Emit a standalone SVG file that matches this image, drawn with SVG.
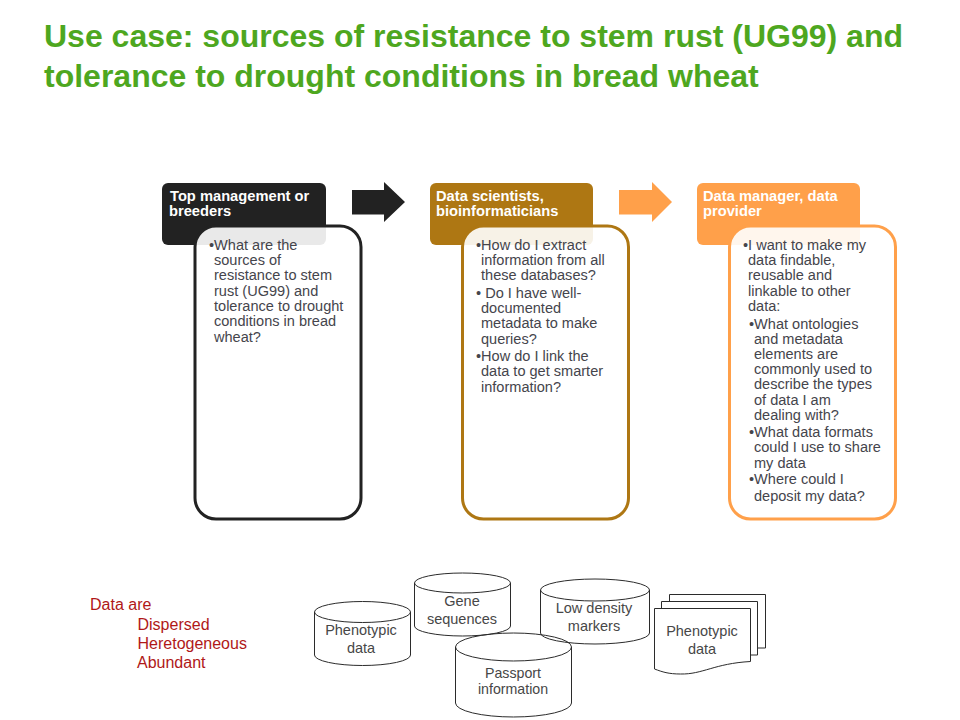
<svg xmlns="http://www.w3.org/2000/svg" width="960" height="720" viewBox="0 0 960 720">
<style>
text{font-family:"Liberation Sans",Arial,sans-serif}
.title{font-size:32px;font-weight:bold;fill:#4ea71f}
.hd{font-size:14.700px;font-weight:bold;fill:#fff}
.bd{font-size:14.550px;fill:#45454c}
.lb{font-size:14.500px;fill:#474747;text-anchor:middle}
.sm{font-size:14.200px}
.red{font-size:16px;fill:#b01818}
.body{fill:#fff;fill-opacity:.9;stroke-width:3}
.ln{fill:none;stroke:#2b2b2b;stroke-width:1}
.pg{fill:#fff;stroke:#2b2b2b;stroke-width:1}
</style>
<rect width="960" height="720" fill="#fff"/>
<text class="title" x="44" y="47">Use case: sources of resistance to stem rust (UG99) and</text>
<text class="title" x="44" y="87">tolerance to drought conditions in bread wheat</text>

<g id="node-top-management">
<rect x="162" y="183" width="164" height="62" rx="6" fill="#222"/>
<text class="hd" x="170" y="201">Top management or</text>
<text class="hd" x="169" y="216">breeders</text>
<rect class="body" x="195" y="226" width="166" height="293" rx="21" stroke="#222"/>
<text class="bd"><tspan x="209" y="250">•What are the</tspan><tspan x="214" y="265">sources of</tspan><tspan x="214" y="280">resistance to stem</tspan><tspan x="214" y="296">rust (UG99) and</tspan><tspan x="214" y="311">tolerance to drought</tspan><tspan x="214" y="326">conditions in bread</tspan><tspan x="214" y="342">wheat?</tspan></text>
</g>

<g id="node-data-scientists">
<rect x="430" y="183" width="163" height="62" rx="6" fill="#ae7713"/>
<text class="hd" x="436" y="201">Data scientists,</text>
<text class="hd" x="436" y="216">bioinformaticians</text>
<rect class="body" x="462.500" y="226" width="166" height="293" rx="21" stroke="#ae7713"/>
<text class="bd"><tspan x="476" y="250">•How do I extract</tspan><tspan x="481" y="265">information from all</tspan><tspan x="481" y="280">these databases?</tspan><tspan x="476" y="298">• Do I have well-</tspan><tspan x="481" y="313">documented</tspan><tspan x="481" y="328">metadata to make</tspan><tspan x="481" y="344">queries?</tspan><tspan x="476" y="361">•How do I link the</tspan><tspan x="481" y="376">data to get smarter</tspan><tspan x="481" y="392">information?</tspan></text>
</g>

<g id="node-data-manager">
<rect x="697" y="183" width="163" height="62" rx="6" fill="#ffa04a"/>
<text class="hd" x="703" y="201">Data manager, data</text>
<text class="hd" x="703" y="216">provider</text>
<rect class="body" x="729.500" y="226" width="166" height="293" rx="21" stroke="#ffa04a"/>
<text class="bd"><tspan x="743" y="250">•I want to make my</tspan><tspan x="748" y="265">data findable,</tspan><tspan x="748" y="280">reusable and</tspan><tspan x="748" y="296">linkable to other</tspan><tspan x="748" y="311">data:</tspan><tspan x="749" y="329">•What ontologies</tspan><tspan x="754" y="344">and metadata</tspan><tspan x="754" y="359">elements are</tspan><tspan x="754" y="374">commonly used to</tspan><tspan x="754" y="389">describe the types</tspan><tspan x="754" y="405">of data I am</tspan><tspan x="754" y="420">dealing with?</tspan><tspan x="749" y="437">•What data formats</tspan><tspan x="754" y="452">could I use to share</tspan><tspan x="754" y="468">my data</tspan><tspan x="749" y="484">•Where could I</tspan><tspan x="754" y="501">deposit my data?</tspan></text>
</g>

<g id="connectors">
<polygon points="352,190 384,190 384,182 405,202 384,222 384,214.500 352,214.500" fill="#222"/>
<polygon points="619,190 652,190 652,182 672,202 652,222 652,214.500 619,214.500" fill="#ffa04a"/>
</g>

<g id="data-note">
<text class="red" x="90" y="610">Data are</text>
<text class="red" x="137.500" y="630">Dispersed</text>
<text class="red" x="137.500" y="649">Heretogeneous</text>
<text class="red" x="137" y="668">Abundant</text>
</g>

<g id="node-phenotypic-db">
<path class="ln" d="M314.500,612a48,10.500 0 0 1 96,0a48,10.500 0 0 1 -96,0v43a48,10.500 0 0 0 96,0v-43"/>
<text class="lb" x="361" y="635">Phenotypic</text>
<text class="lb" x="361" y="653">data</text>
</g>
<g id="node-gene-db">
<path class="ln" d="M414.500,583a48,10 0 0 1 96,0a48,10 0 0 1 -96,0v43a48,10 0 0 0 96,0v-43"/>
<text class="lb" x="462" y="606">Gene</text>
<text class="lb" x="462" y="624">sequences</text>
</g>
<g id="node-low-density-db">
<path class="ln" d="M540.500,590a54.500,11 0 0 1 109,0a54.500,11 0 0 1 -109,0v43a54.500,11 0 0 0 109,0v-43"/>
<text class="lb" x="594" y="613">Low density</text>
<text class="lb" x="594" y="631">markers</text>
</g>
<g id="node-passport-db">
<path class="ln" d="M455.500,647a58,14 0 0 1 116,0a58,14 0 0 1 -116,0v56a58,14 0 0 0 116,0v-56"/>
<text class="lb sm" x="513" y="678">Passport</text>
<text class="lb sm" x="513" y="694">information</text>
</g>
<g id="node-phenotypic-doc">
<path class="pg" d="M669.500,594.500h96v53.500h-96z"/>
<path class="pg" d="M661.500,601.500h96v53.500h-96z"/>
<path class="pg" d="M654.500,608.500h96v53c-36,2 -48,13 -70,12.500c-12,0 -18,-2 -26,-5z"/>
<text class="lb" x="702" y="636">Phenotypic</text>
<text class="lb" x="702" y="654">data</text>
</g>
</svg>
